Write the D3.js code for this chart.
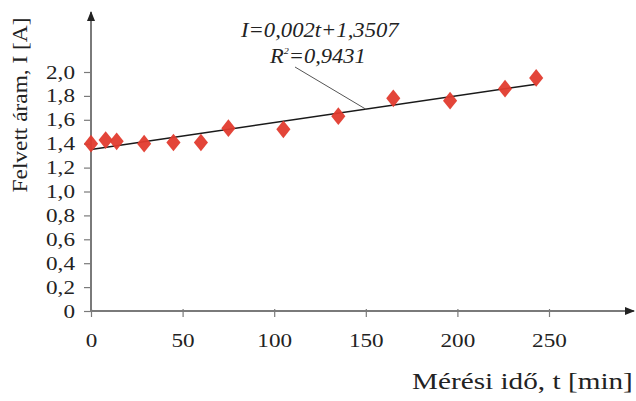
<!DOCTYPE html>
<html><head><meta charset="utf-8">
<script src="https://cdn.jsdelivr.net/npm/d3@7"></script>
<style>body{margin:0;background:#fff}svg{display:block}</style>
</head><body><svg id="c" width="636" height="401"></svg>
<script>
const times = [0, 8, 14, 29, 45, 60, 75, 105, 135, 165, 196, 226, 243];
const currents = [1.40, 1.43, 1.42, 1.40, 1.41, 1.41, 1.53, 1.52, 1.63, 1.78, 1.76, 1.86, 1.95];
const xTicks = [0, 50, 100, 150, 200, 250];
const yTicks = [0, 0.2, 0.4, 0.6, 0.8, 1.0, 1.2, 1.4, 1.6, 1.8, 2.0];
const eqText = "I=0,002t+1,3507";
const r2Value = "0,9431";
const xTitle = "Mérési idő, t [min]";
const yTitle = "Felvett áram, I [A]";

const FONT = "'Liberation Serif', 'Times New Roman', serif";
const svg = d3.select("#c");
const x = d3.scaleLinear().domain([0, 250]).range([91, 549]);
const y = d3.scaleLinear().domain([0, 2]).range([311, 72]);
const axisColor = "#7a7a7a";
const textColor = "#222";
const STRETCH = 1.22;

svg.append("defs").append("marker").attr("id","arr").attr("viewBox","0 0 10 10")
  .attr("refX",9).attr("refY",5).attr("markerWidth",10).attr("markerHeight",10)
  .attr("markerUnits","userSpaceOnUse").attr("orient","auto")
  .append("path").attr("d","M0,1 L10,5 L0,9 Z").attr("fill","#222");

svg.append("line").attr("x1",x(0)).attr("y1",y(0)).attr("x2",634).attr("y2",y(0))
  .attr("stroke",axisColor).attr("stroke-width",2).attr("marker-end","url(#arr)");
svg.append("line").attr("x1",x(0)).attr("y1",y(0)).attr("x2",x(0)).attr("y2",12)
  .attr("stroke",axisColor).attr("stroke-width",2).attr("marker-end","url(#arr)");

const fmt = d => d === 0 ? "0" : d3.format(".1f")(d).replace(".", ",");

const xa = svg.append("g").attr("transform",`translate(0,${y(0)})`)
  .call(d3.axisBottom(x).tickValues(xTicks).tickSize(6).tickPadding(6).tickFormat(d3.format("d")));
xa.select(".domain").remove();
xa.selectAll("line").attr("stroke",axisColor).attr("stroke-width",1.2).attr("y1",-2);
xa.selectAll("text").style("font-size","19px").style("fill",textColor).style("font-family",FONT)
  .attr("dy",null).attr("y",null)
  .attr("transform",`translate(0,36) scale(${STRETCH},1)`);

const ya = svg.append("g").attr("transform",`translate(${x(0)},0)`)
  .call(d3.axisLeft(y).tickValues(yTicks).tickSize(7).tickPadding(5).tickFormat(fmt));
ya.select(".domain").remove();
ya.selectAll("line").attr("stroke",axisColor).attr("stroke-width",1.2);
ya.selectAll("text").style("font-size","19px").style("fill",textColor).style("font-family",FONT)
  .attr("x",null).attr("dy",null)
  .attr("transform",`translate(-16,6) scale(${STRETCH},1)`);

// regression line from data
const mx = d3.mean(times), my = d3.mean(currents);
const slope = d3.sum(times.map((t,i)=>(t-mx)*(currents[i]-my))) / d3.sum(times.map(t=>(t-mx)*(t-mx)));
const icpt = my - slope*mx;
const tMax = d3.max(times);
svg.append("line").attr("x1",x(0)).attr("y1",y(icpt)).attr("x2",x(tMax)).attr("y2",y(icpt+slope*tMax))
  .attr("stroke","#1a1a1a").attr("stroke-width",1.5);

// markers
svg.selectAll("path.pt").data(times).join("path").attr("class","pt")
  .attr("d", d3.symbol().type(d3.symbolDiamond).size(120))
  .attr("transform",(t,i)=>`translate(${x(t)},${y(currents[i])}) scale(1.2,0.87)`)
  .attr("fill","#e23b2e").attr("opacity",0.95);

function fitWidth(sel, left, baseline, width) {
  sel.attr("x",0).attr("y",0).attr("text-anchor","start");
  const w = sel.node().getBBox().width;
  sel.attr("transform",`translate(${left},${baseline}) scale(${width/w},1)`);
}

const eq = svg.append("text")
  .style("font-family",FONT).style("font-size","20px").style("font-style","italic").style("fill",textColor)
  .text(eqText);
fitWidth(eq, 241, 37, 160);
const r2 = svg.append("text")
  .style("font-family",FONT).style("font-size","20px").style("font-style","italic").style("fill",textColor);
r2.append("tspan").text("R");
r2.append("tspan").style("font-size","9px").attr("dy",-9).text("2");
r2.append("tspan").attr("dy",9).text("=" + r2Value);
fitWidth(r2, 270, 63, 97);

const tLead = 150;
svg.append("line").attr("x1",295).attr("y1",67).attr("x2",x(tLead)).attr("y2",y(icpt+slope*tLead))
  .attr("stroke","#555").attr("stroke-width",1);

const xt = svg.append("text")
  .style("font-family",FONT).style("font-size","23px").style("fill",textColor).text(xTitle);
fitWidth(xt, 412, 389, 221);
const yt = svg.append("text").attr("text-anchor","middle")
  .style("font-family",FONT).style("font-size","21px").style("fill",textColor).text(yTitle);
const yw = yt.node().getBBox().width;
yt.attr("transform",`translate(27,105) rotate(-90) scale(${175/yw},1)`);
</script></body></html>
